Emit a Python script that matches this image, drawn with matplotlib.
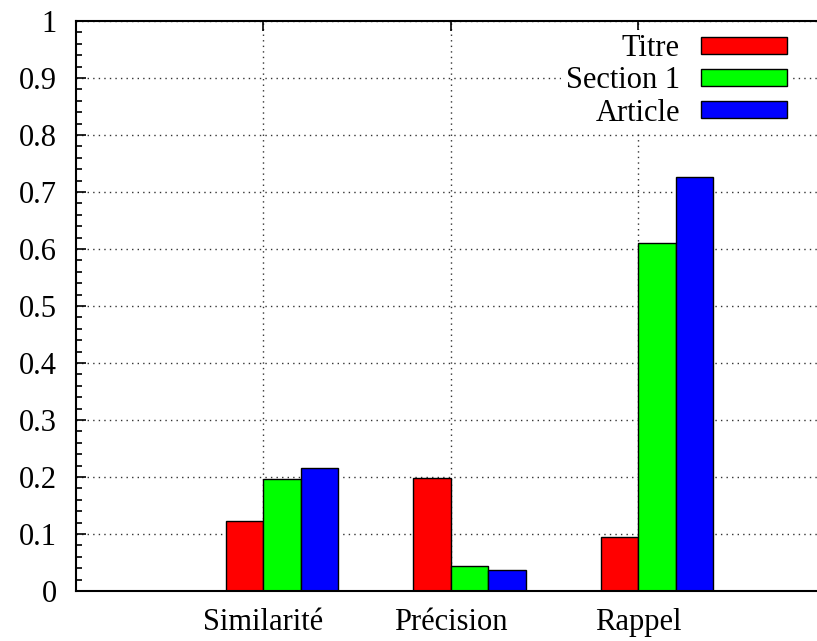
import matplotlib.pyplot as plt
from matplotlib.ticker import MultipleLocator
import numpy as np

# données : trois mesures, trois sources
mesures = ['Similarité', 'Précision', 'Rappel']
series = ['Titre', 'Section 1', 'Article']
titre = [0.123, 0.199, 0.094]
section1 = [0.197, 0.044, 0.611]
article = [0.216, 0.036, 0.727]
couleurs = ['#ff0000', '#00ff00', '#0000ff']
yticks = [0, 0.1, 0.2, 0.3, 0.4, 0.5, 0.6, 0.7, 0.8, 0.9, 1.0]
ylabels = ['0', '0.1', '0.2', '0.3', '0.4', '0.5', '0.6', '0.7', '0.8', '0.9', '1']

plt.rcParams['font.family'] = ['Liberation Serif', 'DejaVu Serif']
plt.rcParams['font.size'] = 22

fig = plt.figure(figsize=(8.17, 6.41), dpi=100)
ax = fig.add_axes([76 / 817, 50 / 641, 1 - 76 / 817, 570 / 641])

x = np.arange(len(mesures))
largeur = 0.2
for i, (vals, nom) in enumerate(zip([titre, section1, article], series)):
    ax.bar(x + (i - 0.5) * largeur, vals, largeur, color=couleurs[i],
           edgecolor='black', linewidth=1.0, label=nom)

ax.set_xlim(-1, 2.955)
ax.set_ylim(0, 1)
ax.set_xticks(x)
ax.set_xticklabels(mesures)
ax.set_yticks(yticks)
ax.set_yticklabels(ylabels)
ax.yaxis.set_minor_locator(MultipleLocator(0.02))
ax.tick_params(axis='both', which='major', direction='in', length=7, width=1.2)
ax.tick_params(axis='y', which='major', pad=14)
ax.tick_params(axis='x', which='major', pad=12, top=True)
ax.tick_params(axis='y', which='minor', direction='in', length=4, width=1.2)

ax.set_axisbelow(True)
ax.grid(True, linestyle=(0, (1, 3)), color='#333333', linewidth=1.0)

ax.spines['right'].set_visible(False)
for s in ['left', 'top', 'bottom']:
    ax.spines[s].set_linewidth(1.5)

# légende : texte à gauche, rectangle de couleur à droite
leg = ax.legend(loc='upper right', bbox_to_anchor=(791.4 / 817, 611.4 / 641),
                bbox_transform=fig.transFigure, markerfirst=False,
                frameon=True, fancybox=False, framealpha=1.0,
                handlelength=2.8, handleheight=0.5, handletextpad=0.7,
                labelspacing=0.105, borderpad=0.15, borderaxespad=0)
leg.get_frame().set_edgecolor('none')
leg.set_zorder(2)

plt.savefig('out.png', dpi=100)
